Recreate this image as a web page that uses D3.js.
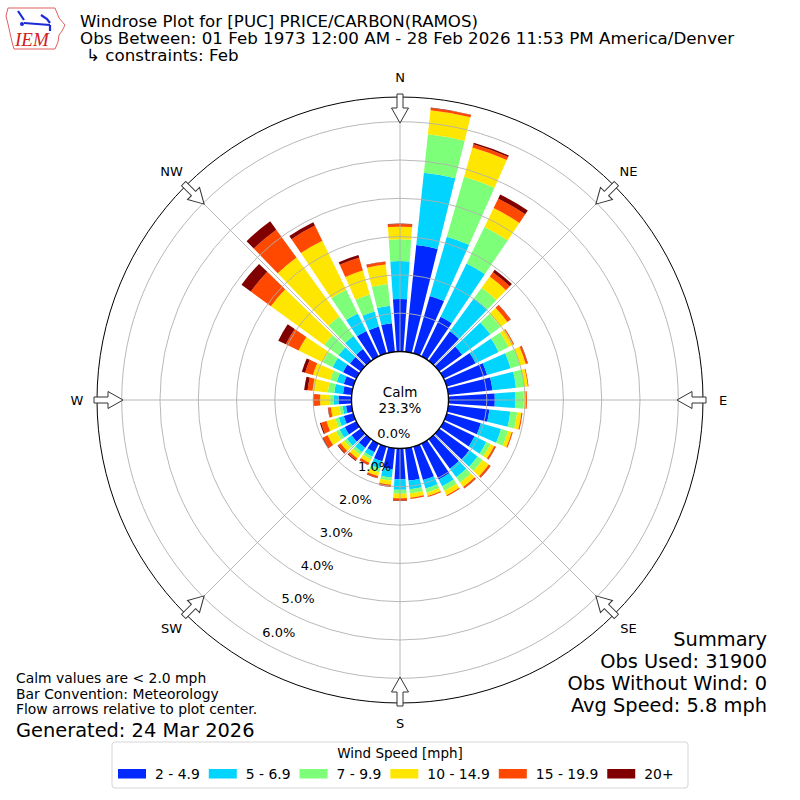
<!DOCTYPE html>
<html>
<head>
<meta charset="utf-8">
<script src="https://d3js.org/d3.v7.min.js"></script>
<style>
    body { margin: 0; background: #fff; }
    svg { display: block; font-family: "DejaVu Sans", sans-serif; }
</style>
</head>
<body>
<div id="rosa"></div>
<script>
// direções (graus, meteorológico) e setores da bússola
const direcoes = [0, 10, 20, 30, 40, 50, 60, 70, 80, 90, 100, 110, 120, 130, 140, 150, 160, 170,
    180, 190, 200, 210, 220, 230, 240, 250, 260, 270, 280, 290, 300, 310, 320, 330, 340, 350];
const rotulosBussola = ['N', 'NE', 'E', 'SE', 'S', 'SW', 'W', 'NW'];
const angulosBussola = [0, 45, 90, 135, 180, 225, 270, 315];

// classes de velocidade
const classes = ['2 - 4.9', '5 - 6.9', '7 - 9.9', '10 - 14.9', '15 - 19.9', '20+'];
const cores = ['#0028ff', '#00d4ff', '#7dff7a', '#ffe600', '#ff4800', '#800000'];

// frequência (%) por direção, uma lista por classe
const vel2 = [1.37, 2.80, 1.56, 1.15, 0.95, 0.74, 0.93, 1.10, 1.16, 1.21, 1.08, 0.93, 0.90, 0.97, 0.95, 1.04, 0.91, 0.85,
    0.80, 0.55, 0.40, 0.25, 0.28, 0.30, 0.34, 0.26, 0.15, 0.34, 0.23, 0.26, 0.39, 0.35, 0.38, 0.74, 0.73, 0.75];
const vel5 = [0.99, 1.90, 1.61, 1.55, 1.07, 0.91, 0.67, 0.64, 0.62, 0.53, 0.55, 0.55, 0.34, 0.27, 0.28, 0.20, 0.23, 0.23,
    0.28, 0.22, 0.20, 0.13, 0.14, 0.15, 0.15, 0.14, 0.09, 0.13, 0.23, 0.19, 0.30, 0.37, 0.42, 0.51, 0.41, 0.46];
const vel7 = [0.57, 1.01, 1.63, 1.06, 0.34, 0.33, 0.29, 0.25, 0.22, 0.23, 0.18, 0.19, 0.12, 0.16, 0.17, 0.13, 0.11, 0.11,
    0.10, 0.08, 0.10, 0.08, 0.08, 0.08, 0.10, 0.09, 0.08, 0.09, 0.17, 0.18, 0.29, 0.46, 0.63, 0.69, 0.46, 0.57];
const vel10 = [0.33, 0.63, 0.79, 0.55, 0.36, 0.22, 0.13, 0.16, 0.09, 0.05, 0.11, 0.10, 0.11, 0.20, 0.14, 0.13, 0.09, 0.11,
    0.12, 0.11, 0.10, 0.10, 0.12, 0.12, 0.25, 0.24, 0.23, 0.26, 0.40, 0.47, 0.70, 1.72, 1.90, 1.42, 0.65, 0.51];
const vel15 = [0.07, 0.06, 0.09, 0.27, 0.14, 0.10, 0.03, 0.05, 0.02, 0.03, 0.03, 0.03, 0.04, 0.05, 0.04, 0.03, 0.03, 0.03,
    0.06, 0.05, 0.05, 0.06, 0.06, 0.08, 0.13, 0.15, 0.07, 0.16, 0.13, 0.21, 0.37, 0.65, 0.90, 0.44, 0.35, 0.07];
const vel20 = [0.01, 0.01, 0.04, 0.12, 0.08, 0.01, 0.00, 0.01, 0.00, 0.00, 0.00, 0.00, 0.01, 0.01, 0.01, 0.00, 0.00, 0.00,
    0.01, 0.01, 0.01, 0.01, 0.02, 0.02, 0.02, 0.03, 0.01, 0.02, 0.09, 0.09, 0.22, 0.30, 0.27, 0.10, 0.07, 0.01];

const aneis = [0, 1, 2, 3, 4, 5, 6];
const calma = 23.3;

const titulo = [
    'Windrose Plot for [PUC] PRICE/CARBON(RAMOS)',
    'Obs Between: 01 Feb 1973 12:00 AM - 28 Feb 2026 11:53 PM America/Denver',
    '\u21b3 constraints: Feb'
];
const notas = ['Calm values are < 2.0 mph', 'Bar Convention: Meteorology', 'Flow arrows relative to plot center.'];
const resumo = ['Summary', 'Obs Used: 31900', 'Obs Without Wind: 0', 'Avg Speed: 5.8 mph'];

function desenharRosa() {
    const largura = 800, altura = 800;
    const cx = 400, cy = 400;
    const raioExterno = 303;

    const svg = d3.select('#rosa').append('svg')
        .attr('width', largura)
        .attr('height', altura);

    svg.append('rect').attr('width', largura).attr('height', altura).attr('fill', '#fff');

    // tabela para o d3.stack
    const series = [vel2, vel5, vel7, vel10, vel15, vel20];
    const tabela = direcoes.map((d, i) => {
        const linha = { dir: d };
        classes.forEach((c, k) => { linha[c] = series[k][i]; });
        return linha;
    });
    const pilha = d3.stack().keys(classes)(tabela);

    // escalas
    const r = d3.scaleLinear().domain([0, 6]).range([48.5, 278.3]);
    const ang = d3.scaleLinear().domain([0, 360]).range([0, 2 * Math.PI]);
    const meiaAbertura = ang(4);

    const g = svg.append('g').attr('transform', `translate(${cx},${cy})`);

    // barras
    const arco = d3.arc()
        .innerRadius(d => r(d[0]))
        .outerRadius(d => r(d[1]))
        .startAngle(d => ang(d.data.dir) - meiaAbertura)
        .endAngle(d => ang(d.data.dir) + meiaAbertura);

    pilha.forEach((camada, k) => {
        g.append('g').selectAll('path')
            .data(camada.filter(d => d[1] - d[0] > 0))
            .enter()
            .append('path')
            .attr('d', arco)
            .attr('fill', cores[k]);
    });

    // grelha
    g.selectAll('circle.anel')
        .data(aneis.slice(1))
        .enter()
        .append('circle')
        .attr('class', 'anel')
        .attr('r', d => r(d))
        .attr('fill', 'none')
        .attr('stroke', '#b0b0b0')
        .attr('stroke-width', 0.9);

    g.selectAll('line.raio')
        .data(angulosBussola)
        .enter()
        .append('line')
        .attr('x1', d => r(0) * Math.sin(ang(d)))
        .attr('y1', d => -r(0) * Math.cos(ang(d)))
        .attr('x2', d => raioExterno * Math.sin(ang(d)))
        .attr('y2', d => -raioExterno * Math.cos(ang(d)))
        .attr('stroke', '#b0b0b0')
        .attr('stroke-width', 0.9);

    g.append('circle')
        .attr('r', raioExterno)
        .attr('fill', 'none')
        .attr('stroke', '#000')
        .attr('stroke-width', 1);

    // círculo de calmaria
    g.append('circle')
        .attr('r', r(0))
        .attr('fill', '#fff')
        .attr('stroke', '#000')
        .attr('stroke-width', 1.3);

    g.append('text').attr('y', -8).attr('text-anchor', 'middle').attr('dominant-baseline', 'central')
        .style('font-size', '13.5px').text('Calm');
    g.append('text').attr('y', 8).attr('text-anchor', 'middle').attr('dominant-baseline', 'central')
        .style('font-size', '13.5px').text(calma.toFixed(1) + '%');

    // rótulos dos anéis (ao longo de 210°)
    const angRotulo = ang(210);
    g.selectAll('text.anel')
        .data(aneis)
        .enter()
        .append('text')
        .attr('x', d => r(d) * Math.sin(angRotulo) + 18)
        .attr('y', d => -r(d) * Math.cos(angRotulo) - 9)
        .attr('text-anchor', 'middle')
        .attr('dominant-baseline', 'central')
        .style('font-size', '13px')
        .text(d => d.toFixed(1) + '%');

    // setas nos pontos cardeais
    const seta = [[-3, -306], [3, -306], [3, -292], [8.5, -292], [0, -277], [-8.5, -292], [-3, -292]];
    g.selectAll('polygon.seta')
        .data(angulosBussola)
        .enter()
        .append('polygon')
        .attr('points', seta.map(p => p.join(',')).join(' '))
        .attr('transform', d => `rotate(${d})`)
        .attr('fill', '#fff')
        .attr('stroke', '#333')
        .attr('stroke-width', 1);

    g.selectAll('text.bussola')
        .data(angulosBussola)
        .enter()
        .append('text')
        .attr('x', d => 323 * Math.sin(ang(d)))
        .attr('y', d => -323 * Math.cos(ang(d)))
        .attr('text-anchor', 'middle')
        .attr('dominant-baseline', 'central')
        .style('font-size', '13px')
        .text((d, i) => rotulosBussola[i]);

    // título
    titulo.forEach((t, i) => {
        const linha = svg.append('text')
            .attr('x', i === 2 ? 86 : 80)
            .attr('y', 27 + i * 17)
            .style('font-size', '16.7px')
            .text(t);
        if (i === 0) linha.attr('textLength', 398).attr('lengthAdjust', 'spacingAndGlyphs');
    });

    // logotipo IEM
    const logo = svg.append('g');
    logo.append('path')
        .attr('d', 'M8,8 L55,8 L57,13 L59,18 L65,25 L62,31 L59,35 L58,42 L55,49 L14,49 L12,42 L10,33 L8,24 L6,16 Z')
        .attr('fill', 'none').attr('stroke', '#e06060').attr('stroke-width', 1);
    logo.append('path')
        .attr('d', 'M24,23 L50,25 M18,11 L24,20 M41,15 L47,19 L50,23 M50,25 L50,31')
        .attr('fill', 'none').attr('stroke', '#1a2bd8').attr('stroke-width', 2.2);
    logo.append('circle').attr('cx', 22).attr('cy', 24).attr('r', 2).attr('fill', '#1a2bd8');
    logo.append('text').attr('x', 15).attr('y', 46)
        .style('font-family', '"Liberation Serif", serif').style('font-style', 'italic')
        .style('font-size', '19px').attr('fill', '#d02020').text('IEM');

    // notas
    notas.forEach((t, i) => {
        svg.append('text').attr('x', 16).attr('y', 683 + i * 15.5)
            .style('font-size', '13.9px').text(t);
    });
    svg.append('text').attr('x', 16).attr('y', 737)
        .style('font-size', '19.4px').text('Generated: 24 Mar 2026');

    resumo.forEach((t, i) => {
        svg.append('text').attr('x', 767).attr('y', 646 + i * 22)
            .attr('text-anchor', 'end')
            .style('font-size', '19.4px').text(t);
    });

    // legenda
    const leg = svg.append('g');
    leg.append('rect')
        .attr('x', 112).attr('y', 742).attr('width', 576).attr('height', 46)
        .attr('rx', 3).attr('fill', '#fff').attr('stroke', '#d6d6d6');
    leg.append('text').attr('x', 400).attr('y', 758).attr('text-anchor', 'middle')
        .style('font-size', '13.5px').text('Wind Speed [mph]');

    let x = 118;
    classes.forEach((c, k) => {
        leg.append('rect').attr('x', x).attr('y', 769).attr('width', 28).attr('height', 9.5)
            .attr('fill', cores[k]);
        const txt = leg.append('text').attr('x', x + 37).attr('y', 779)
            .style('font-size', '13.9px').text(c);
        x += 37 + txt.node().getComputedTextLength() + 9;
    });
}

desenharRosa();
</script>
</body>
</html>
